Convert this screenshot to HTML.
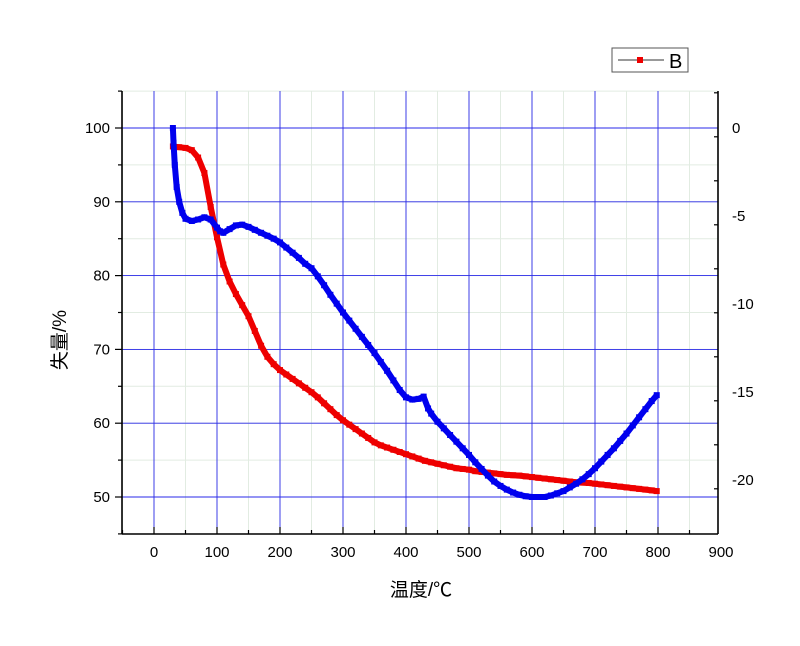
<!DOCTYPE html>
<html><head><meta charset="utf-8"><style>
body{margin:0;background:#fff;}
svg{display:block;font-family:"Liberation Sans","Noto Sans CJK SC",sans-serif;}
</style></head><body>
<svg id="chart" width="800" height="646" viewBox="0 0 800 646">
<g id="grid"></g>
<g id="axes"></g>
<g id="series"></g>
<text x="0" y="0" transform="translate(66,340) rotate(-90)" text-anchor="middle" font-size="19">失量/%</text>
<text x="421" y="596" text-anchor="middle" font-size="19">温度/℃</text>
<g>
<rect x="612" y="48" width="76" height="24" fill="#fff" stroke="#555" stroke-width="1"/>
<line x1="618" y1="60" x2="664" y2="60" stroke="#333" stroke-width="1"/>
<rect x="637" y="57" width="6" height="6" fill="#e00"/>
<text x="669" y="68" font-size="20">B</text>
</g>
</svg>
<script>
const redT=[30,40,50,60,70,80,90,100,110,120,130,140,150,160,170,180,190,200,210,220,230,240,250,260,270,280,290,300,310,320,330,340,350,360,370,380,390,400,410,420,430,440,450,460,470,480,490,500,510,520,530,540,550,560,570,580,590,600,610,620,630,640,650,660,670,680,690,700,710,720,730,740,750,760,770,780,790,798];
const redV=[97.5,97.4,97.3,97.0,96.0,93.9,89.3,85.2,81.5,79.2,77.5,76.0,74.5,72.5,70.5,69.0,68.0,67.2,66.6,66.0,65.4,64.8,64.2,63.5,62.7,61.9,61.1,60.4,59.8,59.2,58.6,58.0,57.4,57.0,56.7,56.4,56.1,55.8,55.5,55.2,54.9,54.7,54.5,54.3,54.1,53.9,53.8,53.7,53.5,53.4,53.3,53.2,53.1,53.0,52.95,52.9,52.8,52.7,52.6,52.5,52.4,52.3,52.2,52.1,52.0,51.95,51.9,51.8,51.7,51.6,51.5,51.4,51.3,51.2,51.1,51.0,50.9,50.8];
const blueT=[30,31,33,36,40,45,50,60,70,80,90,100,105,110,120,130,140,150,160,170,180,190,200,210,220,230,240,250,260,270,280,290,300,310,320,330,340,350,360,370,380,390,400,410,420,428,435,440,450,460,470,480,490,500,510,520,530,540,550,560,570,580,590,600,610,620,630,640,650,660,670,680,690,700,710,720,730,740,750,760,770,780,790,798];
const blueV=[100,98,95,92,90,88.5,87.7,87.4,87.6,87.9,87.6,86.5,86.0,85.8,86.3,86.8,86.9,86.6,86.2,85.8,85.4,85.0,84.5,83.8,83.1,82.4,81.6,81.0,79.9,78.7,77.4,76.2,75.0,73.9,72.8,71.7,70.6,69.5,68.3,67.1,65.8,64.5,63.5,63.2,63.3,63.6,62.0,61.3,60.2,59.3,58.4,57.5,56.6,55.7,54.7,53.8,52.9,52.1,51.5,51.0,50.6,50.3,50.1,50.0,50.0,50.0,50.2,50.5,50.8,51.3,51.8,52.4,53.1,53.9,54.8,55.7,56.6,57.6,58.6,59.7,60.8,61.9,63.0,63.8];
const xTicks=[0,100,200,300,400,500,600,700,800,900];
const yTicks=[50,60,70,80,90,100];
const y2Ticks=[0,-5,-10,-15,-20];
const NS='http://www.w3.org/2000/svg';
const L=122,R=718,T=91,B=534;
const xs=t=>154+(t)*0.63;
const ys=v=>497-(v-50)*7.38;
function y2(v){return 128+(-v)*17.6;}
function mk(tag,attrs,parent){const e=document.createElementNS(NS,tag);for(const k in attrs)e.setAttribute(k,attrs[k]);parent.appendChild(e);return e;}
const grid=document.getElementById('grid'),axes=document.getElementById('axes'),series=document.getElementById('series');
for(let t=-50;t<=900;t+=50){const x=xs(t);if(x<L||x>R)continue;const l=mk('line',{x1:x,x2:x,y1:T,y2:B,stroke:'#e2ece2','stroke-width':1},grid);

}
for(let v=45;v<=105;v+=5){const y=ys(v);if(y<T||y>B)continue;const l=mk('line',{x1:L,x2:R,y1:y,y2:y,stroke:'#e2ece2','stroke-width':1},grid);

}
xTicks.forEach(t=>{const x=xs(t);if(x>=R-1)return;const l=mk('line',{x1:x,x2:x,y1:T,y2:B,stroke:'#2a2ae8','stroke-width':0.9},grid);

});
yTicks.forEach(v=>{const y=ys(v);const l=mk('line',{x1:L,x2:R,y1:y,y2:y,stroke:'#2a2ae8','stroke-width':0.9},grid);

});
[[L,T,L,B],[R,T,R,B],[L,B,R,B]].forEach(a=>{const l=mk('line',{x1:a[0],y1:a[1],x2:a[2],y2:a[3],stroke:'#000','stroke-width':1.6},axes);

});
for(let t=-50;t<=900;t+=50){const x=xs(t);if(x<L-1||x>R+1)continue;const maj=t%100===0;mk('line',{x1:x,x2:x,y1:B,y2:B-(maj?7:4),stroke:'#000','stroke-width':1.2},axes);}
xTicks.forEach(t=>{const tx=mk('text',{x:xs(t),y:B+23,'text-anchor':'middle','font-size':15},axes);tx.textContent=t;

});
for(let v=45;v<=105;v+=5){const y=ys(v);if(y<T-1||y>B+1)continue;mk('line',{x1:L,x2:L-(v%10===0?7:4),y1:y,y2:y,stroke:'#000','stroke-width':1.2},axes);}
yTicks.forEach(v=>{const tx=mk('text',{x:L-12,y:ys(v)+5,'text-anchor':'end','font-size':15},axes);tx.textContent=v;

});
for(let v=2;v>=-22;v-=2.5){const y=y2(v);if(y<T-1||y>B+1)continue;mk('line',{x1:R,x2:R-((Math.round(v*10)%50===0)?7:4),y1:y,y2:y,stroke:'#000','stroke-width':1.2},axes);}
y2Ticks.forEach(v=>{const tx=mk('text',{x:R+14,y:y2(v)+5,'text-anchor':'start','font-size':15},axes);tx.textContent=v;

});
function draw(Ts,Vs,color,name){
  const g=mk('g',{},series);
  
  
  const pts=Ts.map((t,i)=>xs(t)+','+ys(Vs[i])).join(' ');
  mk('polyline',{points:pts,fill:'none',stroke:color,'stroke-width':6,'stroke-linejoin':'round'},g);
  Ts.forEach((t,i)=>{const r=mk('rect',{x:xs(t)-3,y:ys(Vs[i])-3,width:6,height:6,fill:color},g);
  
  });
}
draw(redT,redV,'#ee0000','series-red');
draw(blueT,blueV,'#0000ee','series-blue');
</script>
</body></html>
